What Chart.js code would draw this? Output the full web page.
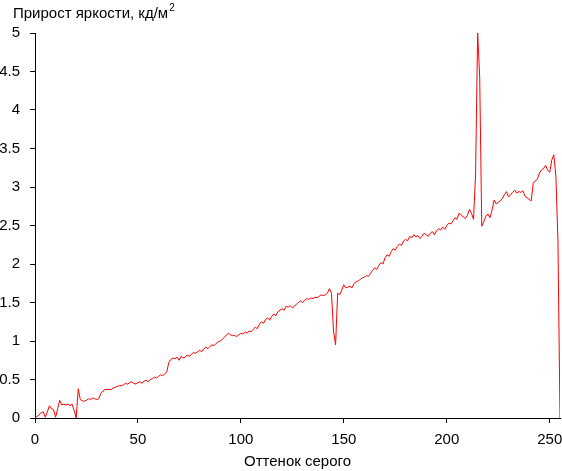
<!DOCTYPE html>
<html>
<head>
<meta charset="utf-8">
<script src="https://cdn.jsdelivr.net/npm/chart.js@4/dist/chart.umd.min.js"></script>
<style>
  html, body { margin: 0; padding: 0; background: #fff; }
  canvas { display: block; }
</style>
</head>
<body>
<canvas id="chart" width="562" height="471"></canvas>
<script>
// grey levels 0..255 on the x axis
const greyLevels = [];
for (let g = 0; g <= 255; g++) greyLevels.push(g);

// brightness gain per grey step, cd/m2
const brightnessGain = [
  0.00, 0.02, 0.04, 0.07, 0.08, 0.01, 0.08, 0.16, 0.12, 0.11,
  0.01, 0.12, 0.23, 0.17, 0.18, 0.17, 0.18, 0.16, 0.18, 0.10,
  0.00, 0.38, 0.24, 0.22, 0.22, 0.23, 0.25, 0.24, 0.26, 0.25,
  0.24, 0.25, 0.32, 0.35, 0.37, 0.37, 0.37, 0.37, 0.39, 0.40,
  0.41, 0.42, 0.42, 0.43, 0.45, 0.44, 0.46, 0.47, 0.45, 0.44,
  0.46, 0.47, 0.45, 0.48, 0.49, 0.47, 0.50, 0.51, 0.53, 0.52,
  0.54, 0.56, 0.55, 0.57, 0.60, 0.72, 0.76, 0.78, 0.77, 0.79,
  0.75, 0.80, 0.78, 0.79, 0.82, 0.80, 0.83, 0.85, 0.84, 0.86,
  0.88, 0.86, 0.90, 0.92, 0.90, 0.93, 0.95, 0.94, 0.97, 0.99,
  1.00, 1.02, 1.05, 1.08, 1.10, 1.08, 1.07, 1.07, 1.06, 1.08,
  1.10, 1.09, 1.12, 1.10, 1.13, 1.12, 1.15, 1.18, 1.16, 1.22,
  1.25, 1.23, 1.28, 1.30, 1.27, 1.32, 1.35, 1.33, 1.38, 1.40,
  1.42, 1.40, 1.45, 1.44, 1.46, 1.43, 1.45, 1.48, 1.50, 1.52,
  1.50, 1.53, 1.55, 1.54, 1.56, 1.55, 1.57, 1.56, 1.58, 1.60,
  1.59, 1.60, 1.62, 1.68, 1.62, 1.13, 0.95, 1.62, 1.60, 1.66,
  1.73, 1.69, 1.70, 1.71, 1.69, 1.75, 1.77, 1.78, 1.80, 1.82,
  1.83, 1.85, 1.84, 1.88, 1.92, 1.95, 1.93, 1.98, 2.02, 2.00,
  2.08, 2.12, 2.10, 2.16, 2.20, 2.18, 2.23, 2.26, 2.24, 2.30,
  2.32, 2.30, 2.36, 2.34, 2.38, 2.35, 2.37, 2.33, 2.36, 2.40,
  2.38, 2.36, 2.40, 2.42, 2.38, 2.43, 2.46, 2.44, 2.48, 2.45,
  2.50, 2.53, 2.52, 2.56, 2.60, 2.58, 2.66, 2.64, 2.61, 2.59,
  2.63, 2.71, 2.66, 2.58, 3.17, 5.00, 4.42, 2.49, 2.55, 2.62,
  2.65, 2.60, 2.70, 2.83, 2.78, 2.80, 2.82, 2.85, 2.90, 2.94,
  2.87, 2.90, 2.93, 2.96, 2.92, 2.94, 2.93, 2.95, 2.88, 2.86,
  2.84, 2.82, 3.05, 3.08, 3.10, 3.18, 3.22, 3.24, 3.28, 3.22,
  3.19, 3.35, 3.42, 3.14, 2.30, 0.00
];

const xTicks = [0, 50, 100, 150, 200, 250];
const yTicks = [0, 0.5, 1, 1.5, 2, 2.5, 3, 3.5, 4, 4.5, 5];

const FONT = 'Liberation Sans, Arial, sans-serif';

// title in the top-left corner with superscript 2
const cornerTitle = {
    id: 'cornerTitle',
    afterDraw(chart) {
        const ctx = chart.ctx;
        ctx.save();
        ctx.fillStyle = '#000';
        ctx.textBaseline = 'alphabetic';
        ctx.font = '15px ' + FONT;
        const txt = 'Прирост яркости, кд/м';
        ctx.fillText(txt, 13, 18);
        const w = ctx.measureText(txt).width;
        ctx.font = '10px ' + FONT;
        ctx.fillText('2', 13 + w + 1, 11);
        ctx.restore();
    }
};

new Chart(document.getElementById('chart'), {
    type: 'line',
    data: {
        labels: greyLevels,
        datasets: [{
            data: brightnessGain,
            borderColor: '#ff0000',
            borderWidth: 1,
            pointRadius: 0,
            tension: 0,
            fill: false
        }]
    },
    options: {
        responsive: false,
        animation: false,
        events: [],
        layout: { padding: { top: 33, right: 2, left: 0, bottom: 0 } },
        plugins: { legend: { display: false }, tooltip: { enabled: false } },
        scales: {
            x: {
                type: 'linear',
                min: 0,
                max: 255,
                afterBuildTicks: s => { s.ticks = xTicks.map(v => ({ value: v })); },
                afterFit: s => { s.height = 53; s.paddingLeft = 0; s.paddingRight = 0; },
                grid: { drawOnChartArea: false, drawTicks: true, tickLength: 5, color: '#000' },
                border: { display: true, color: '#000' },
                ticks: { color: '#000', font: { size: 15, family: FONT }, padding: 8,
                         maxRotation: 0, autoSkip: false },
                title: { display: true, text: 'Оттенок серого', color: '#000',
                         font: { size: 15, family: FONT }, padding: { top: 2, bottom: 0 } }
            },
            y: {
                min: 0,
                max: 5,
                afterBuildTicks: s => { s.ticks = yTicks.map(v => ({ value: v })); },
                afterFit: s => { s.width = 35; },
                grid: { drawOnChartArea: false, drawTicks: true, tickLength: 5, color: '#000' },
                border: { display: true, color: '#000' },
                ticks: { color: '#000', font: { size: 15, family: FONT }, padding: 10,
                         autoSkip: false, callback: v => String(v) }
            }
        }
    },
    plugins: [cornerTitle]
});
</script>
</body>
</html>
